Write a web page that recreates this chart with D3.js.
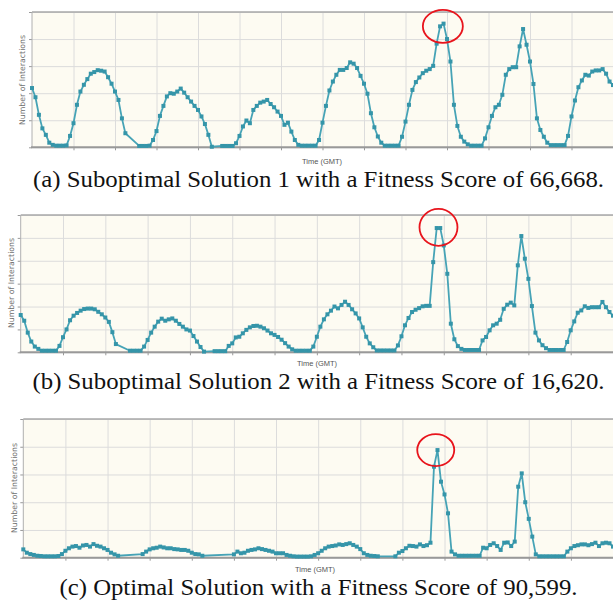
<!DOCTYPE html>
<html>
<head>
<meta charset="utf-8">
<script src="https://cdn.jsdelivr.net/npm/d3@7"></script>
<style>
  body { margin: 0; background: #fff; }
  svg { display: block; }
  .grid line { stroke: #dcdcdc; stroke-width: 1; }
  .grid path { display: none; }
  .ticks line { stroke: #999; }
  .ticks path { display: none; }
  .ylab { font-family: "DejaVu Sans", sans-serif; fill: #707070; }
  .tlab { font-family: "Liberation Sans Narrow", "Liberation Sans", sans-serif; fill: #555; }
  .cap { font-family: "Liberation Serif", "Times New Roman", serif; fill: #111; }
</style>
</head>
<body>
<svg id="chart" width="613" height="601"></svg>
<script>
// hourly interaction counts over one week (one gridline = 12 h), null = no sample
const hours = d3.range(0, 169);

const solution1 = [
  2.19,1.85,1.2,0.7,0.46,0.17,0.09,0.06,0.06,0.06,
  0.07,0.42,0.89,1.57,2.06,2.31,2.52,2.72,2.78,2.85,
  2.83,2.8,2.59,2.35,2.06,1.75,1.07,0.52,null,null,
  null,0.05,0.05,0.05,0.06,0.27,0.6,1.16,1.53,1.88,
  2.0,1.98,2.06,2.17,2.02,1.85,1.69,1.53,1.38,1.14,
  0.86,0.46,0.02,null,null,0.05,0.05,0.05,0.05,0.15,
  0.42,0.77,0.99,0.89,1.38,1.53,1.65,1.69,1.75,1.6,
  1.48,1.32,1.16,0.83,0.91,0.58,0.27,0.09,0.06,0.06,
  0.06,0.06,0.06,0.27,0.91,1.53,2.1,2.43,2.68,2.86,
  2.86,2.93,3.14,3.09,2.93,2.64,2.35,1.98,1.26,0.74,
  0.4,0.17,0.06,0.06,0.06,0.06,0.06,0.39,0.95,1.57,
  2.12,2.41,2.58,2.74,2.83,2.89,3.01,3.83,4.47,4.57,
  4.0,3.17,1.57,0.79,0.39,0.21,0.11,0.06,0.06,0.06,
  0.06,0.33,0.74,1.16,1.48,1.57,1.94,2.68,2.89,2.96,
  2.96,3.73,4.37,3.79,3.17,2.34,1.07,0.64,0.39,0.17,
  0.08,0.08,0.08,0.08,0.08,0.42,1.14,1.73,2.22,2.47,
  2.68,2.65,2.8,2.84,2.84,2.89,2.72,2.43,2.3
];

const solution2 = [
  1.63,1.38,0.86,0.47,0.25,0.15,0.07,0.07,0.07,0.07,
  0.07,0.28,0.66,1.0,1.4,1.6,1.72,1.82,1.89,1.91,
  1.91,1.88,1.77,1.66,1.52,1.33,0.88,0.36,null,null,
  null,0.07,0.07,0.07,0.07,0.25,0.54,0.86,1.12,1.34,
  1.47,1.38,1.44,1.48,1.38,1.24,1.12,1.0,0.95,0.71,
  0.47,0.23,0.03,null,null,0.05,0.05,0.05,0.05,0.28,
  0.39,0.65,0.68,0.83,0.98,1.09,1.15,1.16,1.12,1.05,
  0.95,0.83,0.76,0.67,0.55,0.4,0.25,0.13,0.07,0.07,
  0.07,0.07,0.07,0.25,0.68,1.12,1.44,1.66,1.82,2.0,
  1.92,2.07,2.21,2.07,1.88,1.7,1.48,1.09,0.68,0.39,
  0.22,0.08,0.08,0.08,0.08,0.08,0.08,0.3,0.7,1.18,
  1.5,1.76,1.86,1.93,2.01,2.03,2.03,3.94,5.43,5.43,
  4.67,3.43,1.25,0.57,0.27,0.15,0.1,0.1,0.1,0.1,
  0.1,0.52,0.67,0.96,1.18,1.25,1.42,1.9,2.08,2.17,
  2.05,3.8,5.08,4.09,3.21,2.02,0.86,0.52,0.31,0.18,
  0.1,0.1,0.1,0.1,0.1,0.45,0.96,1.35,1.73,1.83,
  2.01,1.94,1.97,1.97,1.97,2.2,1.97,1.76,1.6
];

const optimal = [
  0.3,0.18,0.13,0.1,0.07,0.06,0.05,0.05,0.05,0.05,
  0.06,0.13,0.25,0.34,0.4,0.42,0.36,0.44,0.46,0.4,
  0.49,0.43,0.4,0.34,0.28,0.18,0.12,0.07,null,null,
  null,null,null,null,0.13,0.22,0.3,0.34,0.36,0.4,
  0.37,0.34,0.34,0.31,0.3,0.28,0.28,0.25,0.18,0.13,
  0.12,0.07,null,null,null,null,null,null,null,null,
  0.12,0.22,0.16,0.18,0.25,0.28,0.3,0.34,0.31,0.28,
  0.25,0.22,0.16,0.16,0.16,0.1,0.07,0.05,0.04,0.04,
  0.04,0.04,0.05,0.1,0.16,0.25,0.34,0.4,0.42,0.44,
  0.48,0.46,0.49,0.52,0.46,0.4,0.31,0.16,0.1,0.07,
  0.06,0.05,null,null,null,null,0.05,0.18,0.24,0.34,
  0.43,0.42,0.4,0.48,0.42,0.45,0.54,3.28,3.88,2.74,
  2.28,1.6,0.22,0.12,0.07,0.07,0.07,0.07,0.07,0.07,
  0.07,0.36,0.34,0.46,0.52,0.42,0.28,0.54,0.55,0.42,
  0.58,2.56,3.04,2.0,1.4,0.76,0.12,0.05,0.05,0.05,
  0.05,0.05,0.05,0.05,0.05,0.22,0.34,0.42,0.45,0.48,
  0.48,0.45,0.49,0.54,0.42,0.52,0.54,0.52,0.4
];

const captions = [
  "(a) Suboptimal Solution 1 with a Fitness Score of 66,668.",
  "(b) Suboptimal Solution 2 with a Fitness Score of 16,620.",
  "(c) Optimal Solution with a Fitness Score of 90,599."
];
const yLabel = "Number of Interactions";
const xLabel = "Time (GMT)";
const yMaxes = [5, 6, 5];
const peaks = [[118.8, 4.47], [118.5, 5.46], [117.5, 3.88]];

// layout per panel (capW = caption width in the reference)
const panels = [
  { values: solution1, left: 32, top: 12, bottom: 147.3, ylx: 24.5, yly: 80, tx: 322, ty: 164, cy: 187, capW: 571, rx: 20, ry: 16.5 },
  { values: solution2, left: 20.7, top: 215, bottom: 352.3, ylx: 13.5, yly: 283, tx: 317, ty: 365.6, cy: 388.5, capW: 572, rx: 19, ry: 18.5 },
  { values: optimal, left: 23.3, top: 419, bottom: 557.7, ylx: 17, yly: 488, tx: 315, ty: 571.6, cy: 594.5, capW: 518, rx: 18.5, ry: 16 }
];

const svg = d3.select("#chart");
const right = 613;

panels.forEach((p, i) => {
  const x = d3.scaleLinear().domain([0, 168]).range([p.left, right]);
  const y = d3.scaleLinear().domain([0, yMaxes[i]]).range([p.bottom, p.top]);
  const g = svg.append("g");
  const h = p.bottom - p.top;

  g.append("rect")
    .attr("x", p.left).attr("y", p.top)
    .attr("width", right - p.left).attr("height", h)
    .attr("fill", "#fdfbf2");

  // gridlines
  g.append("g").attr("class", "grid")
    .attr("transform", `translate(0,${p.bottom})`)
    .call(d3.axisBottom(x).tickValues(d3.range(12, 168, 12)).tickSize(-h).tickFormat(""));
  g.append("g").attr("class", "grid")
    .attr("transform", `translate(${p.left},0)`)
    .call(d3.axisLeft(y).ticks(yMaxes[i]).tickSize(-(right - p.left)).tickFormat(""));

  // small tick marks
  g.append("g").attr("class", "ticks")
    .attr("transform", `translate(0,${p.bottom})`)
    .call(d3.axisBottom(x).tickValues(d3.range(12, 168, 12)).tickSize(3).tickFormat(""));
  g.append("g").attr("class", "ticks")
    .attr("transform", `translate(${p.left},0)`)
    .call(d3.axisLeft(y).ticks(yMaxes[i]).tickSize(3).tickFormat(""));

  // frame
  g.append("line").attr("x1", p.left).attr("x2", right).attr("y1", p.top).attr("y2", p.top)
    .attr("stroke", "#a8a8a8").attr("stroke-width", 1.5);
  g.append("line").attr("x1", p.left).attr("x2", p.left).attr("y1", p.top).attr("y2", p.bottom)
    .attr("stroke", "#b0b0b0").attr("stroke-width", 1);
  g.append("line").attr("x1", p.left - 1).attr("x2", right).attr("y1", p.bottom).attr("y2", p.bottom)
    .attr("stroke", "#999").attr("stroke-width", 2);

  const pts = hours.map(t => ({ t, v: p.values[t] })).filter(d => d.v !== null);

  const line = d3.line().x(d => x(d.t)).y(d => y(d.v));
  g.append("path").datum(pts)
    .attr("d", line)
    .attr("fill", "none")
    .attr("stroke", "#46a3b6")
    .attr("stroke-width", 1.8)
    .attr("stroke-linejoin", "round");

  g.selectAll("rect.pt").data(pts).join("rect")
    .attr("class", "pt")
    .attr("x", d => x(d.t) - 2)
    .attr("y", d => y(d.v) - 2)
    .attr("width", 4).attr("height", 4)
    .attr("fill", "#3595a9");

  // highlight circle around the peak
  g.append("ellipse")
    .attr("cx", x(peaks[i][0])).attr("cy", y(peaks[i][1]))
    .attr("rx", p.rx).attr("ry", p.ry)
    .attr("fill", "none").attr("stroke", "#e8141c").attr("stroke-width", 1.8);

  g.append("text").attr("class", "ylab")
    .attr("transform", `translate(${p.ylx},${p.yly}) rotate(-90)`)
    .attr("text-anchor", "middle")
    .attr("font-size", 7.8)
    .text(yLabel);

  g.append("text").attr("class", "tlab")
    .attr("x", p.tx).attr("y", p.ty)
    .attr("text-anchor", "middle")
    .attr("font-size", 7.5)
    .text(xLabel);

  g.append("text").attr("class", "cap")
    .attr("x", 318.5).attr("y", p.cy)
    .attr("text-anchor", "middle")
    .attr("font-size", 23.5)
    .attr("textLength", p.capW)
    .attr("lengthAdjust", "spacingAndGlyphs")
    .text(captions[i]);
});
</script>
</body>
</html>
